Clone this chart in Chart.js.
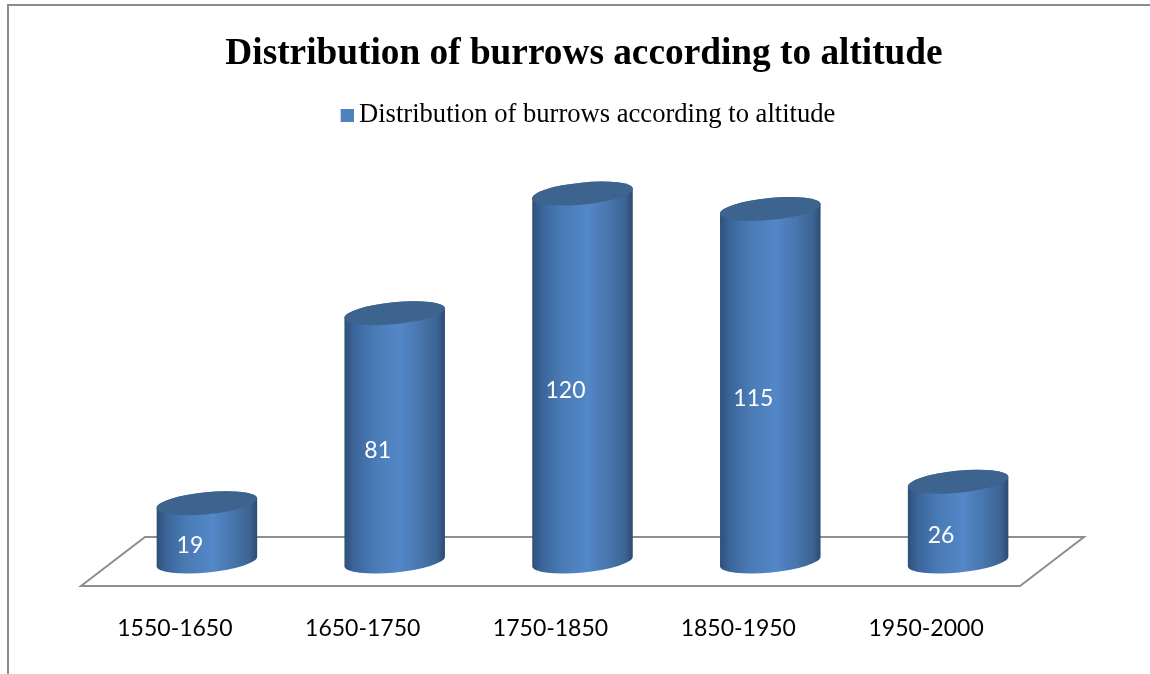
<!DOCTYPE html>
<html>
<head>
<meta charset="utf-8">
<title>Distribution of burrows according to altitude</title>
<script src="https://cdn.jsdelivr.net/npm/chart.js@4"></script>
<style>
    html, body { margin: 0; padding: 0; background: white; overflow: hidden; }
    canvas { display: block; }
</style>
</head>
<body>
<canvas id="burrowsChart" width="1150" height="674"></canvas>
<script>
const chartTitle = "Distribution of burrows according to altitude";
const categories = ["1550-1650", "1650-1750", "1750-1850", "1850-1950", "1950-2000"];
const burrows = [19, 81, 120, 115, 26];

// floor depth, the cylinders stand half way back
const DEPTH_X = 64;
const DEPTH_Y = 49;
const TILT = -0.098;

// ---------------- LEGEND MARK ----------------

// 13px square, pushed right in a wider canvas to sit close to the text
const legendMark = document.createElement("canvas");
legendMark.width = 29;
legendMark.height = 13;
const markCtx = legendMark.getContext("2d");
markCtx.fillStyle = "#4f81bd";
markCtx.fillRect(16, 0, 13, 13);

// ---------------- 3D DRAWING ----------------

function sideGradient(ctx, left, right) {
    const g = ctx.createLinearGradient(left, 0, right, 0);
    g.addColorStop(0, "#2e5079");
    g.addColorStop(0.1, "#3b659a");
    g.addColorStop(0.3, "#4a7bb6");
    g.addColorStop(0.55, "#5387c8");
    g.addColorStop(0.75, "#4876ae");
    g.addColorStop(0.92, "#3c6494");
    g.addColorStop(1, "#2c4a70");
    return g;
}

const framePlugin = {
    id: "frame",
    beforeDraw(chart) {
        const ctx = chart.ctx;
        ctx.save();
        ctx.strokeStyle = "#8c8c8c";
        ctx.lineWidth = 2;
        ctx.beginPath();
        ctx.moveTo(8, chart.height);
        ctx.lineTo(8, 5);
        ctx.lineTo(chart.width, 5);
        ctx.stroke();
        ctx.restore();
    }
};

const floorPlugin = {
    id: "floor",
    beforeDatasetsDraw(chart) {
        const ctx = chart.ctx;
        const a = chart.chartArea;
        ctx.save();
        ctx.strokeStyle = "#8e8e8e";
        ctx.lineWidth = 2;
        ctx.beginPath();
        ctx.moveTo(a.left, a.bottom);
        ctx.lineTo(a.right, a.bottom);
        ctx.lineTo(a.right + DEPTH_X, a.bottom - DEPTH_Y);
        ctx.lineTo(a.left + DEPTH_X, a.bottom - DEPTH_Y);
        ctx.closePath();
        ctx.stroke();
        ctx.restore();
    }
};

const cylinderPlugin = {
    id: "cylinder",
    // replaces the flat bars, positions still come from the bar elements
    beforeDatasetDraw(chart, args) {
        const ctx = chart.ctx;
        const bars = args.meta.data;
        ctx.save();
        bars.forEach((bar, i) => {
            const cx = bar.x + DEPTH_X / 2;
            const top = bar.y - DEPTH_Y / 2;
            const bottom = bar.base - DEPTH_Y / 2;
            const rx = bar.width / 2;
            const ry = 11;

            ctx.beginPath();
            ctx.ellipse(cx, bottom, rx, ry, TILT, 0, Math.PI);
            ctx.ellipse(cx, top, rx, ry, TILT, Math.PI, Math.PI * 2);
            ctx.closePath();
            ctx.fillStyle = sideGradient(ctx, cx - rx, cx + rx);
            ctx.fill();

            ctx.beginPath();
            ctx.ellipse(cx, top, rx, ry, TILT, 0, Math.PI * 2);
            ctx.fillStyle = "#3d638f";
            ctx.fill();

            ctx.fillStyle = "white";
            ctx.font = "23px Lato";
            ctx.textAlign = "center";
            ctx.textBaseline = "middle";
            ctx.fillText(String(burrows[i]), bar.x + 15, (bar.y + bar.base) / 2 - 11);
        });
        ctx.restore();
        return false;
    }
};

// ---------------- CHART ----------------

new Chart(document.getElementById("burrowsChart"), {

    type: "bar",

    data: {
        labels: categories,
        datasets: [{
            label: chartTitle,
            data: burrows,
            backgroundColor: "#4f81bd",
            barThickness: 101
        }]
    },

    options: {
        responsive: false,
        animation: false,

        layout: {
            padding: { left: 18, top: 0, right: 0, bottom: 0 }
        },

        plugins: {
            title: {
                display: true,
                text: chartTitle,
                color: "black",
                font: { family: "Liberation Serif", size: 37.3, weight: "bold" },
                padding: { top: 32, bottom: 19 }
            },
            legend: {
                position: "top",
                labels: {
                    color: "black",
                    font: { family: "Liberation Serif", size: 26.6 },
                    usePointStyle: true,
                    pointStyle: legendMark,
                    boxWidth: 13,
                    boxHeight: 13,
                    pointStyleWidth: 13,
                    padding: 6
                }
            },
            tooltip: { enabled: false }
        },

        scales: {
            x: {
                grid: { display: false },
                border: { display: false },
                ticks: {
                    color: "black",
                    font: { family: "Lato", size: 23 },
                    padding: 21,
                    maxRotation: 0,
                    autoSkip: false
                },
                afterFit(scale) { scale.height = 88; }
            },
            y: {
                min: 0,
                max: 146,
                grid: { display: false },
                border: { display: false },
                ticks: { display: false },
                afterFit(scale) { scale.width = 63; }
            },
            // empty axis, only keeps the floor clear of the right edge
            yRight: {
                type: "linear",
                position: "right",
                grid: { display: false },
                border: { display: false },
                ticks: { display: false },
                afterFit(scale) { scale.width = 130; }
            }
        }
    },

    plugins: [framePlugin, floorPlugin, cylinderPlugin]
});
</script>
</body>
</html>
